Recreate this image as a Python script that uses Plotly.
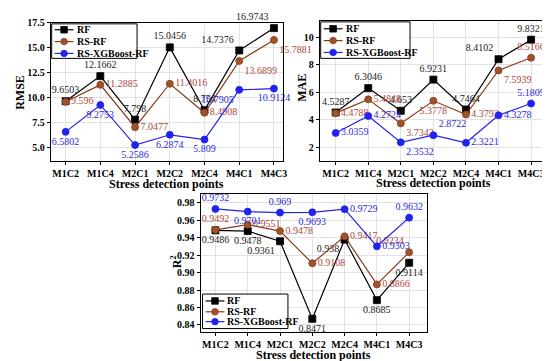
import plotly.graph_objects as go

points = ["M1C2", "M1C4", "M2C1", "M2C2", "M2C4", "M4C1", "M4C3"]
series_names = ["RF", "RS-RF", "RS-XGBoost-RF"]

rmse_rf = [9.6503, 12.1662, 7.798, 15.0456, 8.754, 14.7376, 16.9743]
rmse_rsrf = [9.596, 11.2885, 7.0477, 11.4016, 8.4908, 13.6899, 15.7881]
rmse_xgb = [6.5802, 9.2753, 5.2586, 6.2874, 5.809, 10.7905, 10.9124]

mae_rf = [4.5287, 6.3046, 4.653, 6.9231, 4.7464, 8.4102, 9.8321]
mae_rsrf = [4.4788, 5.4848, 3.7342, 5.3778, 4.3793, 7.5939, 8.5166]
mae_xgb = [3.0359, 4.2724, 2.3532, 2.8722, 2.3221, 4.3278, 5.1809]

r2_rf = [0.9486, 0.9478, 0.9361, 0.8471, 0.938, 0.8685, 0.9114]
r2_rsrf = [0.9492, 0.9551, 0.9478, 0.9108, 0.9417, 0.8866, 0.9234]
r2_xgb = [0.9732, 0.9701, 0.969, 0.9693, 0.9729, 0.9303, 0.9632]

W, H = 550, 361

# label positions (style)
pos_rmse = [
    ["top center", "top center", "top center", "top center", "top center", "top left", "top left"],
    ["middle right"] * 5 + ["bottom right", "bottom right"],
    ["bottom center"] * 5 + ["bottom left", "bottom center"],
]
pos_mae = [
    ["top center", "top center", "top center", "top center", "top center", "top left", "top center"],
    ["middle right", "middle right", "bottom right", "bottom center", "middle right", "bottom right", "top center"],
    ["middle right", "middle right", "bottom right", "top right", "middle right", "middle right", "top center"],
]
pos_r2 = [
    ["bottom center", "bottom center", "bottom left", "bottom center", "bottom left", "bottom center", "bottom center"],
    ["top center", "middle right", "middle right", "middle right", "middle right", "middle right", "top left"],
    ["top center", "bottom center", "top center", "bottom center", "middle right", "middle right", "top center"],
]

line_colors = ["#000000", "#8B3A1A", "#2222EE"]
marker_colors = ["#000000", "#A0522D", "#2222EE"]
text_colors = ["#222222", "#B0473A", "#2a2ae0"]
symbols = ["square", "circle", "circle"]

FONT = "Liberation Serif"


def px(x):
    return x / W


def py(y):
    return 1 - y / H


fig = go.Figure()

panels = [
    (rmse_rf, rmse_rsrf, rmse_xgb, pos_rmse, ""),
    (mae_rf, mae_rsrf, mae_xgb, pos_mae, "2"),
    (r2_rf, r2_rsrf, r2_xgb, pos_r2, "3"),
]

for vals_rf, vals_rsrf, vals_xgb, pos, ax in panels:
    for i, vals in enumerate([vals_rf, vals_rsrf, vals_xgb]):
        fig.add_trace(go.Scatter(
            x=points, y=vals,
            mode="lines+markers+text",
            name=series_names[i],
            text=[f"{v:g}" for v in vals],
            textposition=pos[i],
            textfont=dict(family=FONT, size=10, color=text_colors[i]),
            line=dict(color=line_colors[i], width=1.2),
            marker=dict(symbol=symbols[i], size=7, color=marker_colors[i],
                        line=dict(color=line_colors[i], width=0.8)),
            xaxis="x" + ax, yaxis="y" + ax,
            showlegend=False,
            cliponaxis=False,
        ))

axis_common = dict(
    showline=True, linecolor="black", linewidth=1, mirror=True,
    ticks="outside", ticklen=3, tickcolor="black",
    tickfont=dict(family=FONT, size=10, color="black", weight="bold"),
    showgrid=True, gridcolor="#e2e2e2", gridwidth=0.6,
    zeroline=False,
)
xcommon = dict(axis_common, type="category")

fig.update_layout(
    width=W, height=H,
    margin=dict(l=0, r=0, t=0, b=0),
    paper_bgcolor="white", plot_bgcolor="white",
    showlegend=False,
    xaxis=dict(xcommon, domain=[px(43), px(277)], range=[-0.43, 6.26], anchor="y"),
    yaxis=dict(axis_common, domain=[py(150), py(10)], range=[3.67, 17.5],
               tickvals=[5, 7.5, 10, 12.5, 15, 17.5], ticktext=["5.0", "7.5", "10.0", "12.5", "15.0", "17.5"],
               anchor="x"),
    xaxis2=dict(xcommon, domain=[px(314), px(543)], range=[-0.49, 6.49], anchor="y2"),
    yaxis2=dict(axis_common, domain=[py(150), py(8)], range=[1.0, 11.2],
                tickvals=[2, 4, 6, 8, 10], anchor="x2"),
    xaxis3=dict(xcommon, domain=[px(194), px(422)], range=[-0.46, 6.55], anchor="y3"),
    yaxis3=dict(axis_common, domain=[py(323), py(184)], range=[0.8325, 0.9898],
                tickvals=[0.84, 0.86, 0.88, 0.90, 0.92, 0.94, 0.96, 0.98],
                ticktext=["0.84", "0.86", "0.88", "0.90", "0.92", "0.94", "0.96", "0.98"],
                anchor="x3"),
)

annotations = []
shapes = []
title_font = dict(family=FONT, size=12, color="black")

# axis titles
xt = [(160, 173), (429, 172), (308, 347)]
for (cx, cy) in xt:
    annotations.append(dict(text="<b>Stress detection points</b>", x=px(cx), y=py(cy),
                            xref="paper", yref="paper", showarrow=False,
                            xanchor="center", yanchor="middle", font=title_font))
yt = [("RMSE", 12, 80), ("MAE", 296, 76), ("R<sup>2</sup>", 170, 252)]
for (t, cx, cy) in yt:
    annotations.append(dict(text=f"<b>{t}</b>", x=px(cx), y=py(cy), xref="paper", yref="paper",
                            showarrow=False, textangle=-90, xanchor="center", yanchor="middle",
                            font=title_font))

# manual compact legends: (left, top, right, bottom, item y positions)
legends = [
    (44, 11, 130, 46, [17, 29, 41]),
    (315, 9, 405, 46, [16, 28, 40]),
    (196, 285, 282, 320, [292, 303, 313]),
]
for (l, t, r, b, ys) in legends:
    shapes.append(dict(type="rect", xref="paper", yref="paper",
                       x0=px(l), x1=px(r), y0=py(b), y1=py(t),
                       line=dict(color="black", width=1), fillcolor="white", layer="above"))
    for i, yy in enumerate(ys):
        x0, x1 = l + 3, l + 22
        xm = (x0 + x1) / 2
        shapes.append(dict(type="line", xref="paper", yref="paper",
                           x0=px(x0), x1=px(x1), y0=py(yy), y1=py(yy),
                           line=dict(color=line_colors[i], width=1.2), layer="above"))
        s = 3.3
        shapes.append(dict(type="rect" if symbols[i] == "square" else "circle",
                           xref="paper", yref="paper",
                           x0=px(xm - s), x1=px(xm + s), y0=py(yy + s), y1=py(yy - s),
                           line=dict(color=line_colors[i], width=0.8),
                           fillcolor=marker_colors[i], layer="above"))
        annotations.append(dict(text=f"<b>{series_names[i]}</b>", x=px(x1 + 1), y=py(yy),
                                xref="paper", yref="paper", showarrow=False,
                                xanchor="left", yanchor="middle",
                                font=dict(family=FONT, size=10, color="black")))

fig.update_layout(annotations=annotations, shapes=shapes)

fig.write_html("out.html")
